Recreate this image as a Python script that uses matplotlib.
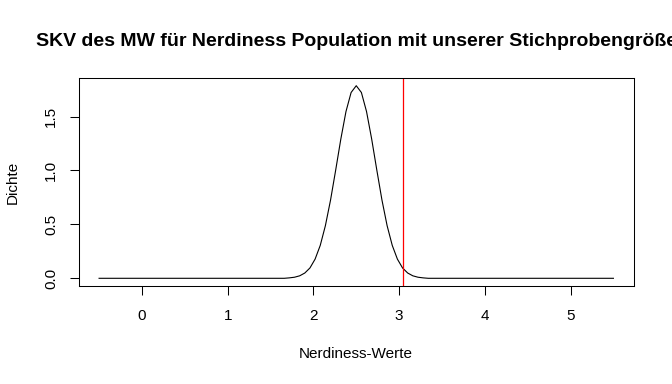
import numpy as np
import matplotlib
matplotlib.use("Agg")
import matplotlib.pyplot as plt

plt.rcParams['font.family'] = ['Liberation Sans', 'DejaVu Sans']

# Werte der Dichtekurve (Stützstellen wie bei curve(): 101 Punkte von -0.5 bis 5.5)
x_werte = np.linspace(-0.5, 5.5, 101)
dichte_mitte = [0.004, 0.010, 0.023, 0.049, 0.096, 0.178, 0.305, 0.488, 0.725,
                1.003, 1.291, 1.546, 1.723, 1.786, 1.723, 1.546, 1.291, 1.003,
                0.725, 0.488, 0.305, 0.178, 0.096, 0.049, 0.023, 0.010, 0.004]
dichte = [0.0] * 37 + dichte_mitte + [0.0] * 37
stichproben_mw = 3.04

xticks = [0, 1, 2, 3, 4, 5]
yticks = [0.0, 0.5, 1.0, 1.5]

fig = plt.figure(figsize=(6.72, 3.84), dpi=100)
ax = fig.add_axes([78.5 / 672, 1 - 286 / 384, (634 - 78.5) / 672, (286 - 78) / 384])

ax.plot(x_werte, dichte, color="black", lw=0.8)
ax.axvline(stichproben_mw, color="red", lw=0.9)

ax.set_xlim(-0.74, 5.74)
ymax = max(dichte)
ax.set_ylim(-0.04 * ymax, 1.04 * ymax)

ax.set_xticks(xticks)
ax.set_xticklabels([str(t) for t in xticks])
ax.set_yticks(yticks)
ax.set_yticklabels(["0.0", "0.5", "1.0", "1.5"], rotation=90, va="center")
ax.tick_params(direction="out", length=6.5, width=0.75, labelsize=11, pad=10, colors="black")
ax.tick_params(axis="y", pad=8)
for s in ax.spines.values():
    s.set_linewidth(0.75)

fig.text(356 / 672, 1 - 42 / 384, "SKV des MW für Nerdiness Population mit unserer Stichprobengröße",
         ha="center", va="center", fontsize=14, fontweight="bold")
fig.text(356 / 672, 1 - 354 / 384, "Nerdiness-Werte", ha="center", va="center", fontsize=11)
fig.text(12.5 / 672, 1 - 182 / 384, "Dichte", ha="center", va="center", rotation=90, fontsize=11)

fig.savefig("out.png", dpi=100)
